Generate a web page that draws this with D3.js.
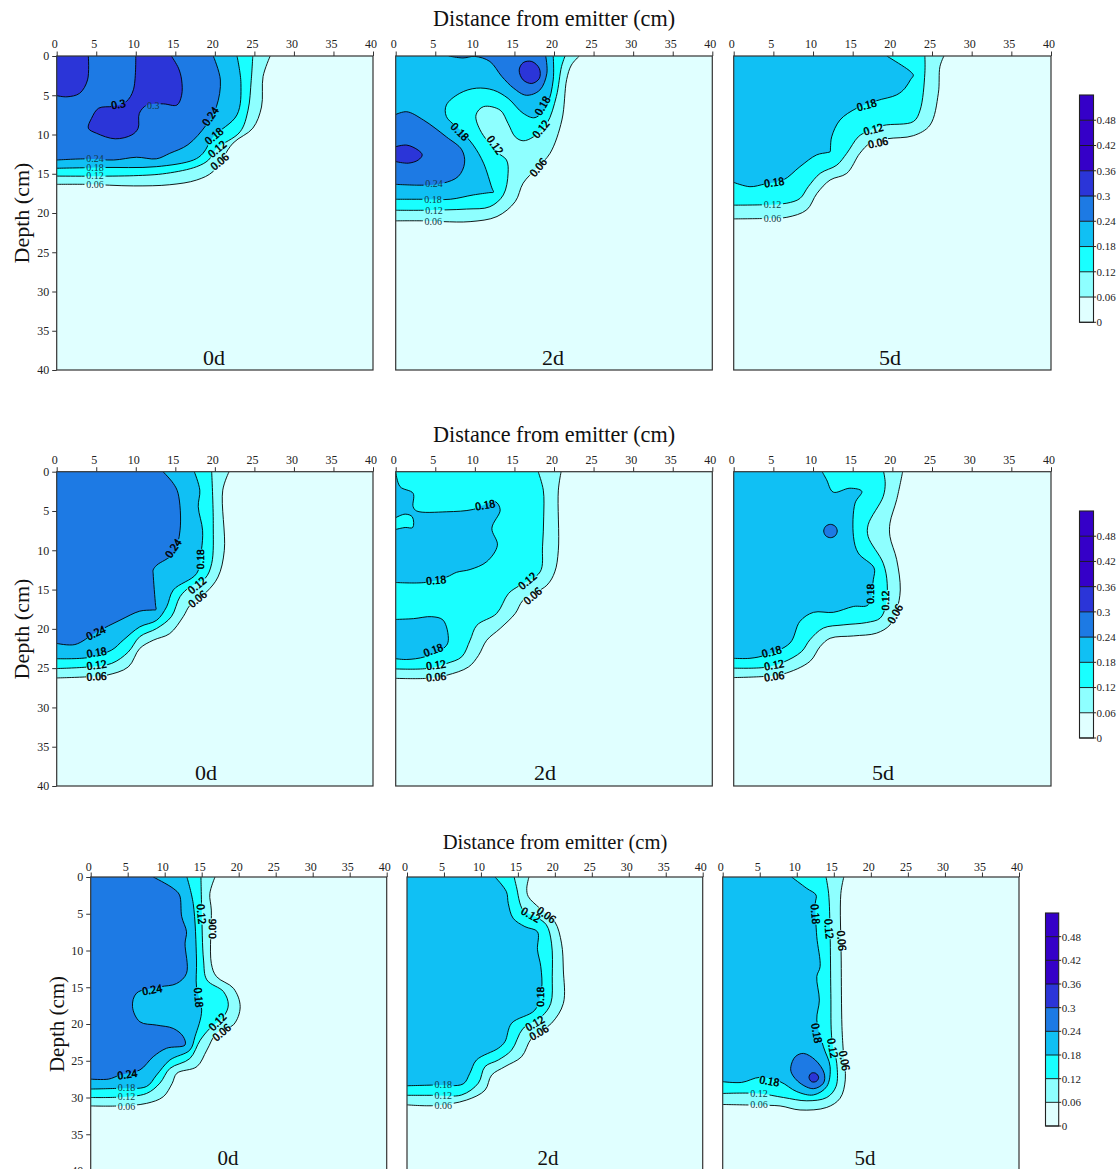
<!DOCTYPE html>
<html><head><meta charset="utf-8">
<script src="https://cdn.jsdelivr.net/npm/d3@7/dist/d3.min.js"></script>
<style>html,body{margin:0;padding:0;background:#fff;overflow:hidden}svg{display:block}text{font-family:"Liberation Serif",serif}</style>
</head><body><svg id="c" width="1119" height="1169"></svg>
<script>
const levels=[0,0.06,0.12,0.18,0.24,0.3,0.36,0.42,0.48,0.54];
const levelLabels=["0","0.06","0.12","0.18","0.24","0.3","0.36","0.42","0.48"];
const bandColors=["#e0ffff","#8effff","#19ffff","#10c0f4","#1d7ae4","#2b35d8","#3500c8","#3500c8","#3500c8"];
const axisTicks=[0,5,10,15,20,25,30,35,40];
const xTitle="Distance from emitter (cm)", yTitle="Depth (cm)";

// contours: [band above the line, points [distance, depth]]
const r1d0=[
[1,[[0,16.35],[3.8,16.35],[9.7,16.55],[14.3,16.4],[17.7,15.8],[19.8,14.7],[22.3,11.1],[24.8,9.2],[25.9,6.5],[26.1,2.6],[27,0]]],
[2,[[0,15.3],[9.7,15.25],[13.9,14.95],[17.7,14.1],[19.2,13.25],[20.2,11.8],[23.2,9.65],[24.2,6.9],[24.6,3.1],[24.8,0]]],
[3,[[0,14.3],[5.5,14.2],[12.6,14.1],[17.3,13.25],[18.5,12.4],[19.8,10.3],[22.8,7.5],[23.3,3.5],[22.8,0]]],
[4,[[0,13.25],[3.8,13.1],[7.2,13.25],[10.1,12.9],[12.6,13.1],[14.3,12.4],[16.6,11.3],[18.9,8.8],[20.2,6.45],[20.7,3.05],[19.8,0]]],
[5,[[0,5.05],[1.3,5.2],[2.9,4.75],[3.9,3.05],[4,0]]],
[5,[[10,0],[9.7,4.3],[8.8,5.8],[7.2,6.4],[5.3,6.65],[4.4,7.95],[4,9.2],[5.05,9.85],[7.4,10.55],[9.5,10.05],[10.3,9.2],[10.45,7.3],[11.4,6.25],[13.5,6.1],[15.2,6.25],[15.8,5],[15.8,3.05],[15.4,1.55],[14.5,0]]]];
const r1d0Labels=[["0.24",4.85,13.1,0,0],["0.18",4.85,14.2,0,0],["0.12",4.85,15.3,0,0],["0.06",4.85,16.45,0,0],["0.3",7.8,6.15,-10,1],["0.3",12.2,6.35,0,0],["0.24",19.45,7.7,-55,1],["0.18",19.9,10.2,-40,1],["0.12",20.3,11.85,-40,1],["0.06",20.6,13.45,-40,1]];

const r1d2=[
[1,[[0,21],[3.7,21],[6,21.1],[9.4,21.1],[12.8,20.45],[15.1,18.55],[16.1,16.2],[17.8,14.3],[19.5,12.4],[21,8.15],[21.6,3],[22.2,1.15],[23.2,0]]],
[2,[[0,19.65],[3.7,19.65],[8.95,19.5],[11.9,19.2],[13.6,17.7],[14.2,14.95],[14,13.25],[12.75,12.2],[10.65,9.4],[10.15,7.5],[11.1,6.45],[13.2,6.9],[14.2,8.6],[15.1,10.3],[16.1,10.8],[17.4,10.3],[19.1,8.6],[20.3,5.15],[20.95,1.35],[21.4,0]]],
[3,[[0,18.25],[3.7,18.25],[6.9,18.25],[9.8,17.7],[11.9,17.4],[12.35,17.35],[12.15,16.8],[11.1,13.65],[9.8,11.35],[8.1,9.4],[6.4,7.7],[6.4,6.25],[8.1,4.75],[10.2,4.1],[12.35,4.35],[14.2,5.4],[16.1,7.3],[17.6,7.85],[19.1,6.25],[19.9,3.05],[19.9,0]]],
[4,[[0,16.35],[3.7,16.45],[6,16.2],[7.9,15.35],[8.7,13.65],[8.35,11.95],[6.4,10.3],[3.5,8.15],[1.4,7.1],[0,7.45]]],
[4,[[6.7,0],[8.5,0.25],[10,0.05],[11.9,0.7],[13.4,2.6],[14.9,4.1],[16.5,5],[18.2,4.35],[19.1,2.2],[18.95,0]]],
[5,[[15.6,1.8],[16.1,0.85],[17.2,0.7],[18.15,1.6],[18.15,2.85],[17.2,3.5],[16.1,3.05],[15.6,1.8]]],
[5,[[0,11.55],[1.4,11.35],[2.85,12],[3.35,12.6],[2.85,13.25],[1.6,13.65],[0,13.45]]]];
const r1d2Labels=[["0.24",4.85,16.3,0,0],["0.18",4.7,18.25,0,0],["0.12",4.85,19.65,0,0],["0.06",4.75,21.05,0,0],["0.18",8.1,9.65,45,1],["0.12",12.55,11.35,55,1],["0.06",18,14.2,-50,1],["0.12",18.35,9.3,-50,1],["0.18",18.55,6.35,-60,1]];

const r1d5=[
[1,[[0,20.75],[3.75,20.7],[6.7,20.55],[9.2,19.6],[10.5,17.5],[12.15,15.8],[14.25,14.95],[15.9,12.4],[17.2,11.1],[19.3,10.55],[22.65,10.15],[24.75,8.8],[25.8,4.75],[26,1.35],[26.5,0]]],
[2,[[0,19],[3.75,18.95],[6.7,18.75],[8.35,18.15],[9.4,16.65],[10.9,14.95],[13,13.9],[14.25,12.4],[15.7,10.3],[16.75,9.65],[18.85,8.85],[22.65,8.35],[23.5,6.9],[24.1,2.2],[24.1,0]]],
[3,[[0,16.1],[2.05,16.65],[3.95,16.3],[6.25,15.8],[8.35,14.1],[10.45,12.6],[11.8,12.3],[12.15,12.2],[12.2,11.7],[12.35,10.3],[13.4,8.15],[15.5,6.65],[18,5.7],[20.55,4.95],[21.6,4.1],[22.3,3],[22.65,2.45],[22.35,2.05],[21.8,1.6],[19.3,0]]]];
const r1d5Labels=[["0.18",5.1,16.1,-8,1],["0.12",4.9,18.9,0,0],["0.06",4.9,20.7,0,0],["0.18",16.75,6.25,-15,1],["0.12",17.6,9.35,-15,1],["0.06",18.2,11.05,-12,1]];

const r2d0=[
[1,[[0,26.25],[4,26.1],[6.3,25.9],[9.05,24.85],[10.5,22.5],[12.2,21.45],[14.3,20.6],[16,18.45],[16.85,17],[18.95,15.3],[20.4,13.4],[21.2,10],[21,2.35],[21.8,0]]],
[2,[[0,25.05],[4,24.85],[6.95,24.4],[9.05,22.95],[10.5,21],[12.65,19.95],[14.5,18.45],[15.6,15.9],[16.85,14.65],[18.75,13.6],[19.6,11.7],[19.8,6.6],[19.6,0]]],
[3,[[0,23.8],[4,23.65],[6.95,22.7],[8.4,21.45],[10.5,19.75],[12.65,18.9],[13.9,17.2],[14.75,15.05],[17.7,12.95],[18.3,10],[18.45,7.45],[17.9,4.45],[18.1,2.35],[17.4,0]]],
[4,[[0,21.85],[2.3,22],[5.05,20.4],[8,18.9],[10.5,17.75],[12.1,17.6],[12.55,17.55],[12.5,17],[12.2,13],[12.2,12.5],[12.65,11.9],[14.75,10.4],[15.6,7.45],[15.35,2.75],[14.75,1.5],[13.45,0]]]];
const r2d0Labels=[["0.24",4.95,20.5,-25,1],["0.18",5.05,23,-10,1],["0.12",5.05,24.6,-8,1],["0.06",5.05,26.05,-3,1],["0.24",14.75,9.75,-55,1],["0.18",18.15,11.15,-90,1],["0.12",17.75,14.45,-40,1],["0.06",17.8,16.2,-40,1]];

const r2d2=[
[1,[[0,26.3],[3.9,26.3],[6.45,25.9],[9.2,24.85],[10.45,23.4],[11.5,21.45],[13.2,19.95],[15.1,18.05],[16.1,16.35],[19.1,14.45],[20.1,12.75],[20.55,10],[20.55,2.35],[20.9,0]]],
[2,[[0,25.1],[3.9,25.05],[6.45,24.4],[8.35,23.55],[9.4,21.45],[10.25,19.55],[12.75,18.05],[14.25,15.5],[15.7,14.45],[18.25,12.75],[18.55,9.55],[18.7,5.75],[18.65,2.35],[18,0]]],
[3,[[0,0],[0.55,1.9],[2.2,2.75],[2.2,4.45],[2.65,5],[6.45,5.1],[9.8,4.8],[12.55,3.8],[13.2,4.85],[12.15,7.2],[12.85,9.35],[11.5,11.45],[9.4,12.45],[7.7,12.8],[6.45,13.4],[3.7,14.1],[0,14.1]]],
[2,[[0,5.85],[1.2,5.4],[2.1,5.75],[2.15,7.1],[1.2,7.1],[0,7.35]]],
[3,[[0,18.8],[2.25,18.7],[4.55,18.45],[6,18.9],[6.65,21.45],[6.25,22.3],[3.7,23.55],[1.4,23.9],[0,23.8]]]];
const r2d2Labels=[["0.18",11.3,4.25,-10,1],["0.18",5.1,13.8,-5,1],["0.18",4.75,22.7,-20,1],["0.12",5.1,24.6,-8,1],["0.06",5.1,26.1,-5,1],["0.12",16.65,13.9,-40,1],["0.06",17.3,15.8,-40,1]];

const r2d5=[
[1,[[0,26.2],[3.95,26.05],[6.25,25.75],[9.6,24.15],[10.9,22.25],[12.15,21.2],[15.1,20.9],[18,20.55],[19.7,19.5],[20.55,17.6],[21,15.05],[20.55,11.2],[19.7,8.25],[19.7,6.55],[20.55,3.55],[21.3,0]]],
[2,[[0,25],[3.95,24.9],[6.25,24.25],[8.55,22.9],[9.6,21.4],[11.3,19.9],[13.8,19.5],[16.75,19.2],[18.45,18.65],[19.15,17.15],[19.35,14.2],[18.85,11.65],[16.95,8.25],[16.95,6.75],[18.85,3.15],[19.1,1.45],[18.9,0]]],
[3,[[0,23.75],[2.05,23.75],[4.15,23.3],[7.1,21.8],[8.35,19.05],[10.05,17.9],[12.55,17.9],[15.1,17.15],[16.95,16.95],[17.6,13.75],[17.7,12.25],[15.7,10.35],[15.1,8.25],[15.3,4],[16.15,2.5],[14.65,2.1],[12.55,2.6],[11.7,1],[11.15,0]]],
[4,[[11.35,7.55],[11.6,6.95],[12.2,6.7],[12.8,6.95],[13.05,7.55],[12.8,8.15],[12.2,8.4],[11.6,8.15],[11.35,7.55]]]];
const r2d5Labels=[["0.18",4.8,22.9,-15,1],["0.12",5.1,24.6,-10,1],["0.06",5.1,26.05,-8,1],["0.18",17.25,15.55,-90,1],["0.12",19.05,16.4,-90,1],["0.06",20.35,18.1,-60,1]];

const r3d0=[
[1,[[0,31.15],[3.75,31.15],[7.55,30.8],[9.8,29.9],[11,28.1],[11.65,26.7],[14.35,25.8],[15.7,23.55],[17,21.25],[19.3,20.1],[20.2,17.65],[19.3,15.15],[17,13.55],[16.3,11.75],[16.3,4.5],[16.1,2.25],[16.8,0]]],
[2,[[0,30],[3.75,29.95],[7.55,29.45],[9.35,28.05],[10.7,26.05],[13.4,24.7],[14.8,22.2],[16.1,20.6],[17.95,19],[18.6,17.4],[17.95,15.6],[15.7,14],[15.25,11.3],[15,4.5],[14.9,0]]],
[3,[[0,28.85],[3.75,28.75],[7.55,28.5],[8.9,26.95],[10.7,24.9],[13.4,23.55],[14.1,21.7],[15,18.1],[14.3,15],[14.3,11.3],[13.85,3.6],[13,0]]],
[4,[[0,27.5],[2.4,27.5],[3.95,26.95],[6.65,26.25],[8.45,24.45],[10.25,23.3],[12.75,22.85],[12.5,21.7],[11.15,20.6],[8.9,20.15],[6.65,19.7],[5.65,17.65],[6.2,15.8],[9.35,14.95],[11.6,14.5],[12.95,13.1],[12.75,9],[12.95,7.45],[12.3,5.4],[12,2.45],[11.15,1.55],[8.45,0]]]];
const r3d0Labels=[["0.18",4.85,28.6,0,0],["0.12",4.85,29.9,0,0],["0.06",4.85,31.2,0,0],["0.24",4.95,26.85,-8,1],["0.24",8.3,15.35,-10,1],["0.18",14.6,16.4,85,1],["0.12",14.95,5.05,85,1],["0.06",16.4,7.05,-90,1],["0.12",17.15,19.7,-45,1],["0.06",17.7,21.15,-40,1]];

const r3d2=[
[1,[[0,31],[3.8,31.1],[8.05,30.35],[10.55,29],[11.45,26.95],[13.25,25.8],[15.5,24.45],[16.85,21.95],[19.55,19.9],[21.15,17.2],[21.15,12.65],[20.9,9],[20,6.1],[17.95,4.25],[16.4,2.65],[16.2,1.55],[16.5,0]]],
[2,[[0,29.7],[3.8,29.7],[7.4,29.65],[9.65,28.05],[10.55,25.8],[12.35,24.9],[14.15,23.55],[15.7,20.6],[18.2,19],[19.45,17.2],[19.65,13.55],[19.55,9],[18.85,6.5],[17.3,5.35],[15.7,4.5],[14.8,1.3],[14.5,0]]],
[3,[[0,28.4],[3.8,28.3],[7.6,28.15],[8.5,26.7],[9.4,24.9],[12.35,23.3],[13.25,22.4],[14.15,19.9],[17.3,18.1],[18.2,15.35],[18.1,12.2],[17.65,9.9],[17.65,7.45],[15.95,6.75],[14.35,5.6],[13.7,3.6],[13.45,2],[11.9,0]]]];
const r3d2Labels=[["0.18",4.9,28.2,0,0],["0.12",4.9,29.7,0,0],["0.06",4.9,31.1,0,0],["0.18",18,16.3,-90,1],["0.12",17.3,19.9,-30,1],["0.06",17.85,21.15,-30,1],["0.12",16.75,5.15,30,1],["0.06",18.85,5.15,35,1]];

const r3d5=[
[1,[[0,30.95],[4.8,31.05],[7.75,31.15],[10.45,31.7],[14.05,31.35],[15.85,30.1],[16.55,27.6],[16.3,24],[16.1,20.35],[16,11.3],[15.95,2.25],[16.35,0]]],
[2,[[0,29.45],[4.8,29.45],[8.2,30],[11.35,30.45],[14.05,30],[15.3,28.5],[15.4,25.35],[14.75,22.2],[14.6,15.85],[14.5,7.65],[14.3,2.25],[13.95,0]]],
[3,[[0,27.85],[2.55,27.95],[5.05,27.25],[7.75,27.85],[10,29.2],[12.25,29.65],[14.05,28.5],[14.5,25.8],[13.6,23.1],[12.7,19.45],[13.05,16.75],[12.7,13.55],[13.15,12.2],[12.7,8.1],[12.5,3.6],[12.6,2.45],[11.35,1.55],[9.3,0]]],
[4,[[9.2,25.8],[9.8,24.45],[10.9,24],[12.5,24.9],[13.7,26.7],[13.6,28.05],[12.25,28.8],[10.45,28.05],[9.3,26.7],[9.2,25.8]]],
[5,[[11.65,27.25],[11.95,26.7],[12.55,26.7],[12.95,27.25],[12.65,27.8],[12,27.85],[11.65,27.25]]]];
const r3d5Labels=[["0.12",4.9,29.45,0,0],["0.06",4.9,31,0,0],["0.18",6.3,27.75,10,1],["0.18",12.5,5.05,85,1],["0.12",14.35,7.05,85,1],["0.06",16.05,8.65,85,1],["0.18",12.7,21.25,80,1],["0.12",14.85,23.3,80,1],["0.06",16.45,25,80,1]];

const svg=d3.select("#c");
const rows=[
 {top:56,bot:370,title:[554,18],titleSize:22.2,depth:[21,213],depthSize:22,nameSize:22,tickPad:4,legend:[1079.5,1093.5,322.3,95],
  panels:[{l:56.7,r:373,c:r1d0,t:r1d0Labels,name:"0d",nx:214,ny:357},{l:395.7,r:712.3,c:r1d2,t:r1d2Labels,name:"2d",nx:553,ny:357},{l:733.7,r:1051,c:r1d5,t:r1d5Labels,name:"5d",nx:890,ny:357}]},
 {top:471.7,bot:786,title:[554,434],titleSize:22.2,depth:[21,629],depthSize:22,nameSize:22,tickPad:3,legend:[1079.5,1093.5,738,511],
  panels:[{l:56.7,r:373,c:r2d0,t:r2d0Labels,name:"0d",nx:206,ny:772},{l:395.7,r:712.3,c:r2d2,t:r2d2Labels,name:"2d",nx:545,ny:772},{l:733.7,r:1051,c:r2d5,t:r2d5Labels,name:"5d",nx:883,ny:772}]},
 {top:877,bot:1171,title:[555,842],titleSize:20.6,depth:[57,1024],depthSize:21,nameSize:21,tickPad:2,legend:[1045.5,1058.7,1126,913],
  panels:[{l:90.7,r:386.7,c:r3d0,t:r3d0Labels,name:"0d",nx:228,ny:1158},{l:407,r:702.7,c:r3d2,t:r3d2Labels,name:"2d",nx:548,ny:1158},{l:722.7,r:1019,c:r3d5,t:r3d5Labels,name:"5d",nx:865,ny:1158}]}];

const defs=svg.append("defs");
let uid=0;
const axisColor="#333";
rows.forEach(row=>{
 svg.append("text").attr("x",row.title[0]).attr("y",row.title[1]).attr("dy","0.35em").attr("text-anchor","middle").attr("font-size",row.titleSize).attr("fill","#111").text(xTitle);
 svg.append("text").attr("transform",`translate(${row.depth[0]},${row.depth[1]}) rotate(-90)`).attr("dy","0.35em").attr("text-anchor","middle").attr("font-size",row.depthSize).attr("fill","#111").text(yTitle);
 row.panels.forEach((p,pi)=>{
  const id=++uid;
  const x=d3.scaleLinear().domain([0,40]).range([p.l,p.r]);
  const y=d3.scaleLinear().domain([0,40]).range([row.top,row.bot]);
  const w=p.r-p.l,h=row.bot-row.top;
  defs.append("clipPath").attr("id","clip"+id).append("rect").attr("x",p.l).attr("y",row.top).attr("width",w).attr("height",h);
  const mask=defs.append("mask").attr("id","m"+id).attr("maskUnits","userSpaceOnUse").attr("x",p.l-2).attr("y",row.top-2).attr("width",w+4).attr("height",h+4);
  mask.append("rect").attr("x",p.l-2).attr("y",row.top-2).attr("width",w+4).attr("height",h+4).attr("fill","#fff");
  p.t.forEach(d=>{const hw=d[0].length===3?7.5:10.5;mask.append("rect").attr("x",-hw).attr("y",-5).attr("width",2*hw).attr("height",10).attr("fill","#000")
    .attr("transform",`translate(${x(d[1])},${y(d[2])}) rotate(${d[3]})`);});
  const g=svg.append("g").attr("clip-path",`url(#clip${id})`);
  g.append("rect").attr("x",p.l).attr("y",row.top).attr("width",w).attr("height",h).attr("fill",bandColors[0]);
  const open=d3.line().x(d=>x(d[0])).y(d=>y(d[1])).curve(d3.curveCatmullRom.alpha(0.5));
  const loop=d3.line().x(d=>x(d[0])).y(d=>y(d[1])).curve(d3.curveCatmullRomClosed.alpha(0.5));
  const build=pts=>{
    const a=pts[0],b=pts[pts.length-1];
    if(a[0]===b[0]&&a[1]===b[1]) return {line:loop(pts.slice(0,-1)),fill:loop(pts.slice(0,-1))};
    const s=open(pts);
    const corner=(a[0]===0&&b[1]===0)||(a[1]===0&&b[0]===0);
    return {line:s,fill:s+(corner?`L${x(0)},${y(0)}`:"")+"Z"};
  };
  p.c.forEach(c=>{g.append("path").attr("d",build(c[1]).fill).attr("fill",bandColors[c[0]]);});
  const lg=g.append("g").attr("mask",`url(#m${id})`);
  p.c.forEach(c=>{lg.append("path").attr("d",build(c[1]).line).attr("fill","none").attr("stroke","#000").attr("stroke-width",0.9);});
  p.t.forEach(d=>{
    const t=g.append("text").attr("transform",`translate(${x(d[1])},${y(d[2])}) rotate(${d[3]})`).attr("text-anchor","middle").attr("dy","0.33em").text(d[0]);
    if(d[4]) t.attr("font-size",11.4).attr("fill","#000").attr("stroke","#000").attr("stroke-width",0.5);
    else t.attr("font-size",10).attr("fill","#123a46");
  });
  svg.append("rect").attr("x",p.l).attr("y",row.top).attr("width",w).attr("height",h).attr("fill","none").attr("stroke",axisColor).attr("stroke-width",1.2);
  const ax=svg.append("g").attr("transform",`translate(0,${row.top})`).call(d3.axisTop(x).tickValues(axisTicks).tickSize(4.5).tickPadding(row.tickPad).tickFormat(d3.format("d")));
  ax.select(".domain").remove();
  ax.selectAll("line").attr("stroke",axisColor);
  ax.selectAll("text").attr("font-size",12).attr("font-family","Liberation Serif").attr("fill","#222").attr("dx",-2.5);
  if(pi===0){
    const ay=svg.append("g").attr("transform",`translate(${p.l},0)`).call(d3.axisLeft(y).tickValues(axisTicks).tickSize(4.5).tickPadding(3).tickFormat(d3.format("d")));
    ay.select(".domain").remove();
    ay.selectAll("line").attr("stroke",axisColor);
    ay.selectAll("text").attr("font-size",12).attr("font-family","Liberation Serif").attr("fill","#222");
  }
  svg.append("text").attr("x",p.nx).attr("y",p.ny).attr("dy","0.35em").attr("text-anchor","middle").attr("font-size",row.nameSize).attr("fill","#111").text(p.name);
 });
 const [lx0,lx1,lb,lt]=row.legend;
 const ly=d3.scaleLinear().domain([0,0.54]).range([lb,lt]);
 bandColors.forEach((col,i)=>{
  svg.append("rect").attr("x",lx0).attr("y",ly(levels[i+1])).attr("width",lx1-lx0).attr("height",ly(levels[i])-ly(levels[i+1])).attr("fill",col);
 });
 levelLabels.forEach((lab,i)=>{
  svg.append("line").attr("x1",lx0).attr("x2",lx1+2.5).attr("y1",ly(levels[i])).attr("y2",ly(levels[i])).attr("stroke","#111").attr("stroke-width",0.9);
  svg.append("text").attr("x",lx1+3).attr("y",ly(levels[i])).attr("dy","0.35em").attr("font-size",11).attr("fill","#222").text(lab);
 });
 svg.append("rect").attr("x",lx0).attr("y",lt).attr("width",lx1-lx0).attr("height",lb-lt).attr("fill","none").attr("stroke","#222").attr("stroke-width",1.1);
});
</script></body></html>
